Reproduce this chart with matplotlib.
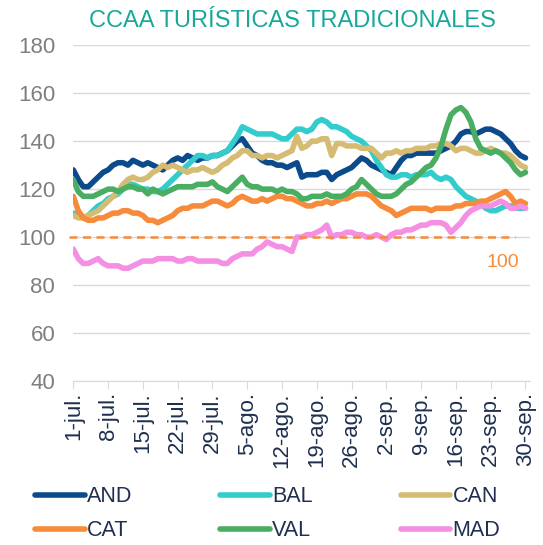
import matplotlib
matplotlib.use("Agg")
import matplotlib.pyplot as plt
import numpy as np

# Daily index (1-jul = 100 reference), 1 jul .. 30 sep
AND = [128, 124, 121, 121, 123, 125, 127, 128, 130, 131, 131, 130, 132, 131, 130, 131,
       130, 129, 128, 130, 132, 133, 132, 134, 133, 132, 133, 133, 134, 134, 135, 136,
       138, 140, 141, 138, 135, 134, 132, 131, 131, 130, 130, 129, 130, 131, 125, 126,
       126, 126, 127, 127, 124, 126, 127, 128, 129, 131, 133, 132, 130, 129, 128, 127,
       126, 129, 132, 134, 134, 135, 135, 135, 135, 135, 136, 137, 138, 140, 143, 144,
       144, 143, 144, 145, 145, 144, 143, 141, 139, 136, 134, 133]
BAL = [110, 109, 108, 109, 111, 113, 114, 116, 117, 118, 120, 122, 122, 121, 120, 120,
       119, 119, 120, 122, 124, 126, 128, 130, 132, 134, 134, 133, 134, 134, 135, 136,
       139, 142, 146, 145, 144, 143, 143, 143, 143, 142, 141, 141, 143, 145, 145, 144,
       145, 148, 149, 148, 146, 146, 145, 144, 142, 141, 140, 138, 136, 132, 129, 126,
       125, 125, 126, 126, 125, 126, 126, 126, 127, 125, 124, 125, 124, 121, 119, 117,
       116, 115, 114, 112, 111, 111, 112, 113, 113, 112, 112, 112]
CAN = [109, 108, 108, 109, 110, 111, 113, 115, 117, 119, 122, 124, 125, 124, 124, 125,
       127, 128, 130, 129, 130, 129, 128, 127, 128, 128, 129, 128, 127, 128, 130, 131,
       133, 134, 136, 136, 134, 134, 133, 134, 134, 133, 134, 135, 136, 142, 137, 138,
       140, 140, 141, 141, 134, 139, 139, 138, 138, 138, 137, 137, 137, 135, 133, 135,
       135, 136, 135, 136, 136, 137, 137, 137, 138, 138, 139, 139, 138, 136, 137, 137,
       136, 135, 135, 136, 137, 136, 135, 135, 134, 132, 130, 129]
CAT = [117, 111, 108, 107, 107, 108, 108, 109, 110, 110, 111, 111, 110, 110, 109, 107,
       107, 106, 107, 108, 109, 111, 112, 112, 113, 113, 113, 114, 115, 115, 114, 113,
       114, 116, 117, 116, 115, 115, 116, 115, 116, 117, 117, 116, 116, 115, 114, 113,
       113, 114, 114, 115, 114, 115, 116, 116, 117, 118, 118, 118, 117, 115, 113, 112,
       111, 109, 110, 111, 112, 112, 112, 112, 111, 112, 112, 112, 112, 113, 113, 114,
       114, 114, 115, 115, 116, 117, 118, 119, 117, 114, 115, 114]
VAL = [124, 119, 117, 117, 117, 118, 119, 120, 120, 119, 120, 121, 121, 120, 120, 118,
       120, 119, 118, 119, 120, 121, 121, 121, 121, 122, 122, 122, 123, 121, 120, 119,
       121, 123, 125, 122, 121, 121, 120, 120, 120, 119, 120, 119, 119, 118, 116, 116,
       117, 117, 117, 118, 117, 117, 117, 118, 120, 121, 124, 122, 120, 118, 117, 117,
       117, 118, 120, 122, 123, 125, 127, 129, 130, 133, 138, 145, 151, 153, 154, 152,
       148, 141, 137, 136, 135, 136, 135, 133, 131, 128, 126, 127]
MAD = [95, 91, 89, 89, 90, 91, 89, 88, 88, 88, 87, 87, 88, 89, 90, 90,
       90, 91, 91, 91, 91, 90, 90, 91, 91, 90, 90, 90, 90, 90, 89, 89,
       91, 92, 93, 93, 93, 95, 96, 98, 97, 96, 96, 95, 94, 100, 100, 101,
       101, 102, 103, 105, 100, 101, 101, 102, 102, 101, 101, 100, 100, 101, 100, 99,
       101, 102, 102, 103, 103, 104, 105, 105, 106, 106, 106, 105, 102, 104, 106, 109,
       111, 112, 113, 113, 113, 114, 115, 114, 112, 112, 113, 112]

series_names = ["AND", "BAL", "CAN", "CAT", "VAL", "MAD"]
series_colors = ["#0b4a8b", "#33cccc", "#d6bb72", "#f68b3b", "#4aae62", "#f48fe4"]
tick_labels = ["1-jul.", "8-jul.", "15-jul.", "22-jul.", "29-jul.", "5-ago.", "12-ago.",
               "19-ago.", "26-ago.", "2-sep.", "9-sep.", "16-sep.", "23-sep.", "30-sep."]
reference = 100

plt.rcParams["font.family"] = ["Liberation Sans", "DejaVu Sans"]

fig = plt.figure(figsize=(5.43, 5.45), dpi=100)
ax = fig.add_axes([0.135, 0.301, 0.841, 0.616])

days = np.arange(len(AND))
handles = {}
for name, values, color in zip(series_names, [AND, BAL, CAN, CAT, VAL, MAD], series_colors):
    (h,) = ax.plot(days, values, color=color, lw=4, solid_joinstyle="round",
                   solid_capstyle="round", label=name)
    handles[name] = h

ax.axhline(reference, xmin=-0.009, xmax=0.967, color="#f68b3b", lw=1.8,
           dashes=(3.2, 2.2), clip_on=False)
ax.text(86.5, 89.6, str(reference), color="#f68b3b", fontsize=14, ha="center", va="center")

ax.set_ylim(40, 180)
ax.set_xlim(0, 91.9)
ax.set_yticks(range(40, 181, 20))
ax.set_xticks(days[::7])
ax.set_xticklabels(tick_labels, rotation=90)
ax.grid(axis="y", color="#d9d9d9", lw=1)
ax.set_axisbelow(True)
for s in ["left", "right", "top"]:
    ax.spines[s].set_visible(False)
ax.spines["bottom"].set_color("#d9d9d9")
ax.tick_params(axis="y", length=0, labelsize=16, labelcolor="#7f7f7f", pad=13)
ax.tick_params(axis="x", length=6, color="#d9d9d9", labelsize=16,
               labelcolor="#1f2f4f", pad=2)

fig.text(0.538, 0.962, "CCAA TURÍSTICAS TRADICIONALES", color="#17a89a",
         fontsize=17, ha="center", va="center")

order = ["AND", "CAT", "BAL", "VAL", "CAN", "MAD"]
leg = fig.legend([handles[n] for n in order], order, ncol=3, loc="center",
                 bbox_to_anchor=(0.493, 0.057), frameon=False, fontsize=15.5,
                 handlelength=2.3, handletextpad=0.1, columnspacing=4.1,
                 labelspacing=0.6)
for t in leg.get_texts():
    t.set_color("#1f2f4f")

fig.savefig("out.png", dpi=100)
